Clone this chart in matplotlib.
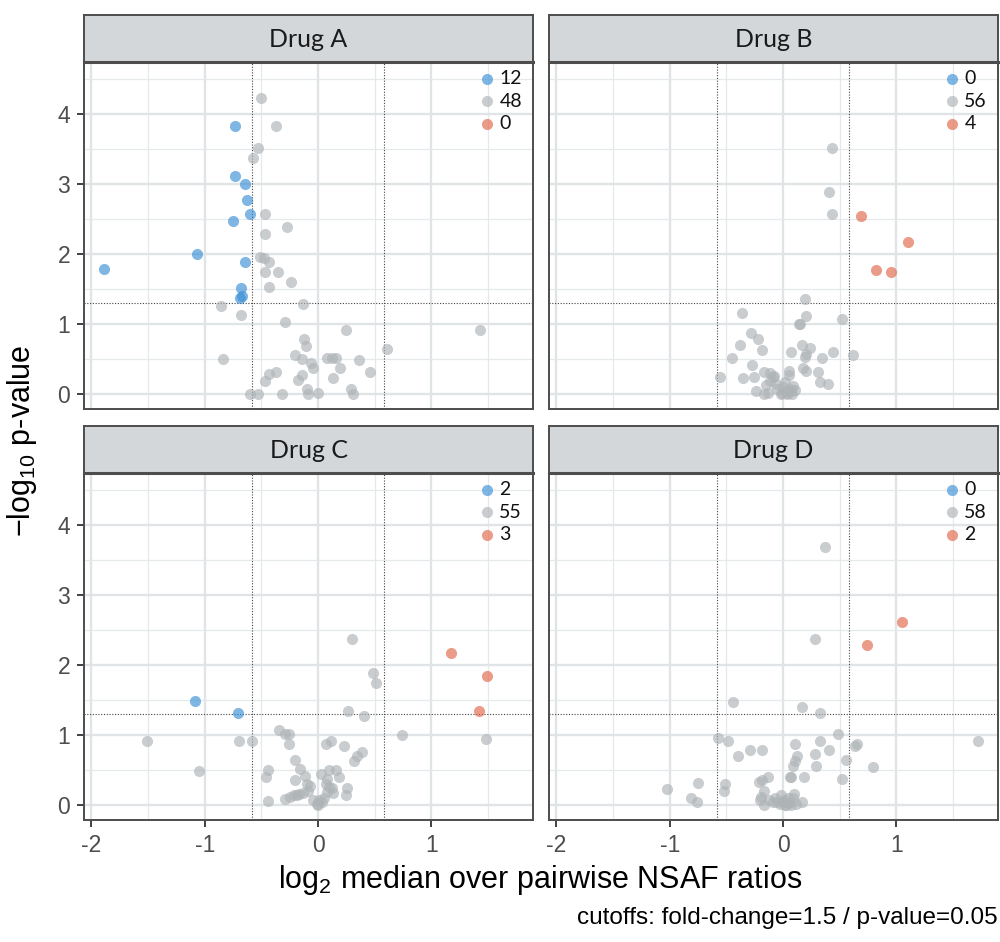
import numpy as np
import matplotlib
matplotlib.use('Agg')
from matplotlib import pyplot as plt

plt.rcParams['font.family'] = ['Liberation Sans', 'DejaVu Sans']
plt.rcParams['axes.unicode_minus'] = False
plt.rcParams['mathtext.fontset'] = 'custom'
plt.rcParams['mathtext.rm'] = 'Liberation Sans'

# cutoffs
fold_change = 1.5
p_cut = 0.05

drugs = ['Drug A', 'Drug B', 'Drug C', 'Drug D']

# log2 median ratio (x) and -log10 p-value (y), one pair of lists per drug
drugA_x = [-0.73, -0.73, -0.64, -0.63, -0.60, -0.75, -1.07, -1.89, -0.64, -0.68, -0.67, -0.69,
           -0.50, -0.37, -0.53, -0.57, -0.47, -0.27, -0.47, -0.51, -0.48, -0.43, -0.47, -0.35,
           -0.24, -0.43, -0.13, -0.86, -0.68, -0.29, 0.25, 1.43, -0.12, -0.11, 0.61, -0.84,
           -0.20, -0.14, 0.08, 0.12, 0.16, 0.36, -0.06, -0.04, 0.19, 0.46, -0.37, -0.43,
           -0.14, -0.18, -0.47, 0.13, -0.10, 0.29, -0.60, -0.53, -0.32, -0.09, 0.00, 0.31]
drugA_y = [3.82, 3.12, 3.00, 2.77, 2.57, 2.47, 2.00, 1.79, 1.89, 1.52, 1.40, 1.38,
           4.22, 3.83, 3.51, 3.37, 2.57, 2.38, 2.29, 1.96, 1.95, 1.89, 1.74, 1.74,
           1.60, 1.53, 1.29, 1.26, 1.13, 1.03, 0.92, 0.92, 0.79, 0.69, 0.65, 0.50,
           0.56, 0.50, 0.52, 0.52, 0.52, 0.49, 0.45, 0.38, 0.37, 0.32, 0.32, 0.29,
           0.28, 0.20, 0.19, 0.23, 0.08, 0.07, 0.00, 0.00, 0.00, 0.00, 0.02, 0.00]

drugB_x = [0.69, 1.10, 0.82, 0.95,
           0.435, 0.406, 0.429, 0.194, -0.362, 0.206, 0.518, 0.141, 0.15, -0.285,
           -0.221, -0.379, 0.171, 0.235, -0.182, 0.074, 0.444, 0.615, 0.206, 0.194,
           0.344, -0.45, -0.276, 0.176, 0.206, 0.309, 0.053, 0.05, -0.171, -0.118,
           -0.082, -0.559, -0.356, -0.259, 0.324, 0.397, -0.118, -0.147, -0.059, 0.015,
           -0.235, -0.171, -0.129, -0.053, 0.0, 0.024, 0.044, 0.076, 0.103, 0.059,
           -0.006, 0.088, -0.088, -0.015, 0.035, 0.074]
drugB_y = [2.54, 2.17, 1.77, 1.74,
           3.51, 2.89, 2.57, 1.36, 1.16, 1.12, 1.07, 1.00, 1.00, 0.88,
           0.79, 0.71, 0.71, 0.66, 0.63, 0.60, 0.60, 0.56, 0.57, 0.53,
           0.52, 0.52, 0.42, 0.37, 0.33, 0.32, 0.33, 0.28, 0.32, 0.30,
           0.26, 0.25, 0.23, 0.25, 0.18, 0.14, 0.19, 0.13, 0.14, 0.17,
           0.05, 0.01, 0.02, 0.07, 0.10, 0.05, 0.02, 0.00, 0.06, 0.07,
           0.02, 0.12, 0.24, 0.00, 0.00, 0.04]

drugC_x = [-1.085, -0.71, 1.17, 1.49, 1.42,
           0.30, 0.488, 0.512, 0.265, 0.409, 0.738, 1.479, -1.506, -0.694, -0.582,
           -1.05, -0.344, -0.294, -0.253, -0.256, 0.068, 0.118, 0.226, 0.388, 0.347,
           0.321, -0.20, -0.159, -0.441, -0.459, -0.112, -0.206, -0.10, 0.024, 0.10,
           0.156, 0.185, 0.076, 0.071, 0.121, 0.135, 0.253, 0.247, -0.438, -0.288,
           -0.209, -0.165, -0.135, -0.085, -0.041, 0.006, 0.003, 0.032, 0.056, -0.071,
           0.10, -0.012, -0.182, -0.247, 0.076]
drugC_y = [1.49, 1.32, 2.17, 1.85, 1.35,
           2.37, 1.88, 1.74, 1.35, 1.27, 1.00, 0.95, 0.91, 0.91, 0.91,
           0.49, 1.07, 1.02, 1.02, 0.87, 0.88, 0.92, 0.85, 0.76, 0.71,
           0.63, 0.65, 0.52, 0.51, 0.40, 0.42, 0.36, 0.31, 0.44, 0.51,
           0.51, 0.41, 0.38, 0.30, 0.24, 0.17, 0.25, 0.14, 0.06, 0.09,
           0.14, 0.16, 0.18, 0.20, 0.07, 0.07, 0.01, 0.05, 0.10, 0.27,
           0.26, 0.02, 0.14, 0.12, 0.19]

drugD_x = [1.05, 0.744,
           0.371, 0.282, -0.438, 0.165, 0.329, 0.485, -0.571, -0.482, 0.106, 0.324,
           0.656, 0.632, 1.724, -0.288, -0.185, -0.397, 0.409, 0.282, 0.126, 0.103,
           0.559, 0.288, 0.797, 0.088, -0.129, 0.071, 0.182, 0.524, -0.185, -0.75,
           -0.509, -0.518, -1.026, -0.812, -0.762, -0.165, -0.191, -0.20, -0.165, -0.071,
           -0.015, -0.053, 0.0, 0.029, 0.053, 0.094, 0.088, 0.165, 0.006, 0.074,
           -0.029, -0.088, 0.044, 0.118, -0.124, 0.065, -0.212, 0.015]
drugD_y = [2.62, 2.28,
           3.68, 2.37, 1.47, 1.40, 1.31, 1.02, 0.96, 0.91, 0.88, 0.91,
           0.88, 0.84, 0.91, 0.79, 0.79, 0.71, 0.79, 0.73, 0.71, 0.63,
           0.65, 0.56, 0.54, 0.56, 0.41, 0.40, 0.41, 0.38, 0.36, 0.32,
           0.30, 0.21, 0.23, 0.11, 0.04, 0.21, 0.12, 0.08, 0.00, 0.10,
           0.14, 0.05, 0.05, 0.01, 0.03, 0.16, 0.10, 0.05, 0.07, 0.00,
           0.02, 0.05, 0.10, 0.02, 0.07, 0.41, 0.33, 0.00]

all_x = [drugA_x, drugB_x, drugC_x, drugD_x]
all_y = [drugA_y, drugB_y, drugC_y, drugD_y]

col_down = '#3a8fd6'
col_ns = '#aeb3b6'
col_up = '#e16748'
alpha = 0.65
dot = 64

x_cut = np.log2(fold_change)
y_cut = -np.log10(p_cut)

fig = plt.figure(figsize=(10, 9.42), dpi=100)

lefts = [0.084, 0.549]
width = 0.449
panel_bottoms = [0.5658, 0.1295]
panel_h = 0.3684
strip_h = 0.0499
border = '#4d4d4d'

for k in range(4):
    row, col = k // 2, k % 2
    x = np.array(all_x[k])
    y = np.array(all_y[k])
    down = (x < -x_cut) & (y > y_cut)
    up = (x > x_cut) & (y > y_cut)
    ns = ~(down | up)

    ax = fig.add_axes([lefts[col], panel_bottoms[row], width, panel_h])
    ax.set_xlim(-2.065, 1.897)
    ax.set_ylim(-0.21, 4.74)
    ax.set_xticks([-2, -1, 0, 1])
    ax.set_xticks([-1.5, -0.5, 0.5, 1.5], minor=True)
    ax.set_yticks([0, 1, 2, 3, 4])
    ax.set_yticks(np.arange(0.5, 4.6, 1.0), minor=True)
    ax.grid(which='major', color='#e0e4e7', lw=1.7)
    ax.grid(which='minor', color='#e6e9ec', lw=0.9)
    ax.set_axisbelow(True)
    for s in ax.spines.values():
        s.set_color(border)
        s.set_linewidth(1.4)
    ax.tick_params(which='minor', length=0)
    ax.tick_params(which='major', length=5, width=1.3, color='#333333', pad=5,
                   labelsize=16.5, labelcolor='#4d4d4d')
    if row == 0:
        ax.tick_params(axis='x', which='major', length=0, labelbottom=False)
    if col == 1:
        ax.tick_params(axis='y', which='major', length=0, labelleft=False)

    ax.axvline(-x_cut, color='#444444', lw=0.8, ls=(0, (1, 1.5)), zorder=1)
    ax.axvline(x_cut, color='#444444', lw=0.8, ls=(0, (1, 1.5)), zorder=1)
    ax.axhline(y_cut, color='#444444', lw=0.8, ls=(0, (1, 1.5)), zorder=1)

    ax.scatter(x[ns], y[ns], s=dot, color=col_ns, alpha=alpha, lw=0, zorder=2)
    ax.scatter(x[down], y[down], s=dot, color=col_down, alpha=alpha, lw=0, zorder=3)
    ax.scatter(x[up], y[up], s=dot, color=col_up, alpha=alpha, lw=0, zorder=3)

    # count legend inside the panel
    counts = [down.sum(), ns.sum(), up.sum()]
    for c, n, ly in zip([col_down, col_ns, col_up], counts, [4.50, 4.18, 3.86]):
        ax.scatter([1.494], [ly], s=dot, color=c, alpha=alpha, lw=0, zorder=4)
        ax.text(1.60, ly, str(n), fontsize=14, family=['Lato', 'DejaVu Sans'],
                va='center', ha='left', color='#111111')

    sax = fig.add_axes([lefts[col], panel_bottoms[row] + panel_h, width, strip_h])
    sax.set_facecolor('#d3d7da')
    sax.set_xticks([])
    sax.set_yticks([])
    for s in sax.spines.values():
        s.set_color(border)
        s.set_linewidth(1.4)
    sax.spines['bottom'].set_linewidth(2.2)
    sax.text(0.5, 0.48, drugs[k], transform=sax.transAxes, ha='center', va='center',
             fontsize=18, family=['Lato', 'DejaVu Sans'], color='#1a1a1a')

fig.text(0.5405, 0.066, r'$\mathregular{log_2}$ median over pairwise NSAF ratios',
         ha='center', va='center', fontsize=22)
fig.text(0.022, 0.532, r'$\mathregular{-log_{10}}$ p-value', rotation=90,
         ha='center', va='center', fontsize=22)
fig.text(0.998, 0.025, 'cutoffs: fold-change=1.5 / p-value=0.05',
         ha='right', va='center', fontsize=17.5)

fig.savefig('out.png', dpi=100)
